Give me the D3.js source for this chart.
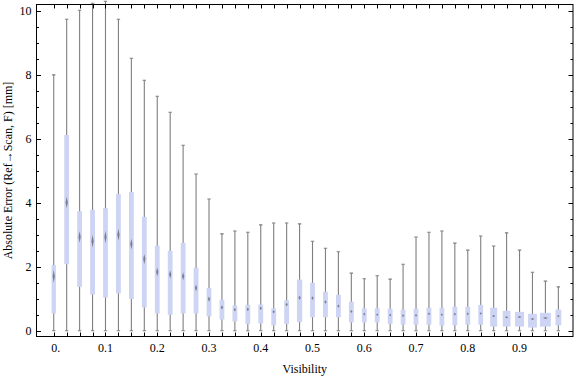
<!DOCTYPE html>
<html>
<head>
	<meta charset="utf-8">
	<title>Absolute error vs visibility</title>
	<script src="https://d3js.org/d3.v7.min.js"></script>
	<style>
		body { margin: 0; background: #fff; }
		text { font-family: 'Liberation Serif', 'Times New Roman', serif; font-size: 12px; fill: #000; }
	</style>
</head>
<body>
	<div class="chart"></div>

	<script type="text/javascript">

		// visibility of each box (category)
		var visibility = [0, 0.025, 0.05, 0.075, 0.1, 0.125, 0.15, 0.175, 0.2, 0.225,
			0.25, 0.275, 0.3, 0.325, 0.35, 0.375, 0.4, 0.425, 0.45, 0.475,
			0.5, 0.525, 0.55, 0.575, 0.6, 0.625, 0.65, 0.675, 0.7, 0.725,
			0.75, 0.775, 0.8, 0.825, 0.85, 0.875, 0.9, 0.925, 0.95, 0.975]

		// whisker ends, quartiles and median (mm)
		var whiskerLow = [0, 0, 0, 0, 0, 0, 0, 0, 0, 0,
			0, 0, 0, 0, 0, 0, 0, 0, 0, 0,
			0, 0, 0, 0, 0, 0, 0, 0, 0, 0,
			0, 0, 0, 0, 0, 0, 0, 0, 0, 0]
		var q1 = [0.54, 2.08, 1.375, 1.13, 1.04, 1.17, 0.99, 0.73, 0.54, 0.5,
			0.54, 0.54, 0.45, 0.35, 0.29, 0.21, 0.23, 0.17, 0.21, 0.27,
			0.42, 0.42, 0.42, 0.26, 0.26, 0.26, 0.22, 0.19, 0.19, 0.19,
			0.16, 0.17, 0.19, 0.19, 0.13, 0.13, 0.13, 0.1, 0.13, 0.17]
		var median = [1.7, 4.01, 2.93, 2.8, 2.93, 3.0, 2.71, 2.24, 1.84, 1.76,
			1.7, 1.34, 0.99, 0.73, 0.66, 0.67, 0.7, 0.59, 0.82, 1.03,
			1.02, 0.9, 0.77, 0.6, 0.52, 0.5, 0.49, 0.47, 0.48, 0.53,
			0.5, 0.52, 0.53, 0.54, 0.46, 0.42, 0.43, 0.37, 0.4, 0.46]
		var q3 = [2.05, 6.12, 3.74, 3.78, 3.83, 4.27, 4.34, 3.56, 2.66, 2.5,
			2.75, 1.97, 1.34, 0.97, 0.79, 0.81, 0.82, 0.7, 0.95, 1.6,
			1.5, 1.22, 1.125, 0.91, 0.7, 0.7, 0.69, 0.66, 0.69, 0.72,
			0.72, 0.75, 0.75, 0.81, 0.72, 0.625, 0.59, 0.53, 0.56, 0.66]
		var whiskerHigh = [8.0, 9.74, 10.02, 10.24, 10.3, 9.74, 8.52, 7.83, 7.33, 6.83,
			5.8, 4.9, 4.12, 3.03, 3.12, 3.08, 3.31, 3.37, 3.37, 3.34,
			2.8, 2.58, 2.47, 1.8, 1.625, 1.72, 1.615, 2.08, 2.93, 3.08,
			3.12, 2.74, 2.52, 2.96, 2.65, 3.06, 2.52, 1.83, 1.55, 1.37]
		// half height of the median notch (mm)
		var notchHalf = [0.2, 0.18, 0.18, 0.2, 0.19, 0.19, 0.17, 0.16, 0.14, 0.13,
			0.125, 0.105, 0.08, 0.065, 0.058, 0.058, 0.055, 0.052, 0.055, 0.07,
			0.062, 0.055, 0.05, 0.045, 0.042, 0.042, 0.042, 0.042, 0.042, 0.042,
			0.042, 0.042, 0.042, 0.042, 0.035, 0.03, 0.028, 0.028, 0.025, 0.035]
		// relative box width
		var boxWeight = [0.9, 1, 1, 1, 1, 1, 1, 1, 1, 1,
			1, 1, 1, 1, 1, 1, 1, 1, 1, 1.1,
			1, 1, 1, 1, 1, 1, 1, 1, 1, 1,
			1, 1, 1, 1, 1.45, 1.62, 1.87, 1.83, 2.25, 1.2]

		var xTicks = [0, 0.1, 0.2, 0.3, 0.4, 0.5, 0.6, 0.7, 0.8, 0.9]
		var xTickLabels = ['0.', '0.1', '0.2', '0.3', '0.4', '0.5', '0.6', '0.7', '0.8', '0.9']
		var yTicks = [0, 2, 4, 6, 8, 10]

		var width = 576
		var height = 377
		// plot frame (window.top is reserved, so prefixed names)
		var pLeft = 36.5, pRight = 573, pTop = 4.5, pBottom = 336.5

		var svg = d3.select('.chart')
			.append('svg')
			.attr('width', width)
			.attr('height', height)
			.style('background-color', '#fff')

		var xScale = d3.scaleLinear()
			.domain([-0.0333, 1.0033])
			.range([pLeft, pRight])

		var yScale = d3.scaleLinear()
			.domain([-0.18, 10.2])
			.range([pBottom, pTop])

		var boxes = visibility.map((v, i) => ({
			x: v,
			lo: whiskerLow[i],
			q1: q1[i],
			med: median[i],
			q3: q3[i],
			hi: whiskerHigh[i],
			notch: notchHalf[i],
			w: 4.8 * boxWeight[i]
		}))

		var plot = svg.append('g')

		// whiskers
		plot.selectAll('line.whisker')
			.data(boxes)
			.enter()
			.append('line')
			.attr('class', 'whisker')
			.attr('x1', d => xScale(d.x))
			.attr('x2', d => xScale(d.x))
			.attr('y1', d => yScale(d.lo))
			.attr('y2', d => yScale(d.hi))
			.attr('stroke', '#7f7f7f')
			.attr('stroke-width', 1.1)

		// whisker caps
		plot.selectAll('path.cap')
			.data(boxes)
			.enter()
			.append('path')
			.attr('class', 'cap')
			.attr('d', d => {
				var x = xScale(d.x)
				return `M${x - 1.7},${yScale(d.lo)}H${x + 1.7}M${x - 1.7},${yScale(d.hi)}H${x + 1.7}`
			})
			.attr('stroke', '#7f7f7f')
			.attr('stroke-width', 1.1)

		// boxes
		plot.selectAll('rect.box')
			.data(boxes)
			.enter()
			.append('rect')
			.attr('class', 'box')
			.attr('x', d => xScale(d.x) - d.w / 2)
			.attr('width', d => d.w)
			.attr('y', d => yScale(d.q3))
			.attr('height', d => yScale(d.q1) - yScale(d.q3))
			.attr('fill', '#cdd4f4')

		// median notch marker
		plot.selectAll('path.median')
			.data(boxes)
			.enter()
			.append('path')
			.attr('class', 'median')
			.attr('d', d => {
				var x = xScale(d.x)
				var hw = Math.max(1.1, d.w * 0.21)
				var t = yScale(d.med + d.notch), b = yScale(d.med - d.notch), m = yScale(d.med)
				if (b - t < 2) { t = m - 1; b = m + 1 }
				return `M${x},${t}L${x + hw},${m}L${x},${b}L${x - hw},${m}Z`
			})
			.attr('fill', '#6e6e78')
			.attr('fill-opacity', 0.85)

		// frame
		svg.append('rect')
			.attr('x', pLeft)
			.attr('y', pTop)
			.attr('width', pRight - pLeft)
			.attr('height', pBottom - pTop)
			.attr('fill', 'none')
			.attr('stroke', '#000')
			.attr('stroke-width', 1)

		// ticks at each box, bottom and top
		var frameTicks = svg.append('g').attr('stroke', '#000').attr('stroke-width', 1)
		frameTicks.selectAll('path.xt')
			.data(visibility)
			.enter()
			.append('path')
			.attr('d', v => {
				var x = Math.round(xScale(v)) + 0.5
				return `M${x},${pBottom}V${pBottom - 4}M${x},${pTop}V${pTop + 4}`
			})

		// y ticks: major every 2, minor every 0.5
		var yMinor = d3.range(0, 10.01, 0.5).filter(v => v % 2 !== 0)
		frameTicks.selectAll('path.yt')
			.data(yTicks.map(v => [v, 4.5]).concat(yMinor.map(v => [v, 2.5])))
			.enter()
			.append('path')
			.attr('d', d => {
				var y = Math.round(yScale(d[0])) + 0.5
				return `M${pLeft},${y}H${pLeft + d[1]}M${pRight},${y}H${pRight - d[1]}`
			})

		// tick labels
		svg.append('g')
			.selectAll('text')
			.data(xTicks)
			.enter()
			.append('text')
			.attr('x', (d, i) => xScale(d) + (i === 0 ? 2 : 0))
			.attr('y', 352)
			.attr('text-anchor', 'middle')
			.text((d, i) => xTickLabels[i])

		svg.append('g')
			.selectAll('text')
			.data(yTicks)
			.enter()
			.append('text')
			.attr('x', 31.5)
			.attr('y', d => yScale(d) + 4)
			.attr('text-anchor', 'end')
			.text(d => d)

		// axis titles
		svg.append('text')
			.attr('x', (pLeft + pRight) / 2)
			.attr('y', 373)
			.attr('text-anchor', 'middle')
			.text('Visibility')

		svg.append('text')
			.attr('transform', `translate(12, ${(pTop + pBottom) / 2}) rotate(-90)`)
			.attr('text-anchor', 'middle')
			.text('Absolute Error (Ref→Scan, F) [mm]')

	</script>
</body>
</html>
